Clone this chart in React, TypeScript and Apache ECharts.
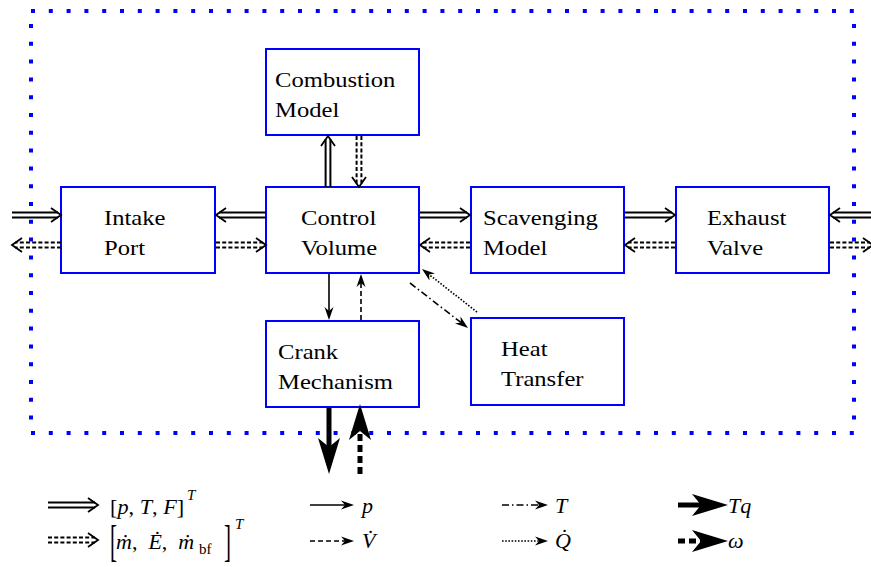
import { useEffect, useRef } from "react";
import * as echarts from "echarts";

const WIDTH = 871;
const HEIGHT = 567;

// ---- blocks of the diagram ----
const boxLabels = ["Combustion\nModel", "Intake\nPort", "Control\nVolume", "Scavenging\nModel", "Exhaust\nValve", "Crank\nMechanism", "Heat\nTransfer"];
const boxLeft = [266, 61, 266, 471, 676, 266, 471];
const boxTop = [49, 187, 187, 187, 187, 321, 318];
const boxRight = [419, 215, 419, 624, 829, 419, 624];
const boxBottom = [135, 273, 273, 273, 273, 407, 405];
const boxLabelLeft = [275, 104, 301, 483, 707, 278, 501];

// ---- dotted system boundary ----
const frameLeft = [31];
const frameTop = [11];
const frameRight = [854];
const frameBottom = [433];

// ---- signal arrows ----
const arrowKinds = [
  "dbl", "dblDash", "dbl", "dblDash", "dbl", "dblDash", "dbl", "dblDash", "dbl", "dblDash",
  "dbl", "dblDash", "solid", "dash", "dashDot", "dot", "thick", "thickDash",
  "dbl", "dblDash", "solid", "dash", "dashDot", "dot", "thick", "thickDash",
];
const arrowFromX = [12, 61, 266, 216, 420, 470, 625, 675, 871, 830, 328, 359, 329, 361, 410, 477, 329, 360, 48, 48, 310, 310, 502, 502, 678, 678];
const arrowFromY = [215, 245, 215, 245, 215, 245, 215, 245, 215, 245, 187, 136, 274, 320, 283, 312, 408, 474, 505, 540, 505, 541, 505, 541, 505, 541];
const arrowToX = [61, 12, 216, 266, 470, 420, 675, 625, 830, 873, 328, 359, 329, 361, 468, 422, 329, 360, 98, 98, 354, 354, 548, 548, 728, 728];
const arrowToY = [215, 245, 215, 245, 215, 245, 215, 245, 215, 245, 136, 187, 320, 274, 328, 269, 474, 404, 505, 540, 505, 541, 505, 541, 505, 541];

// ---- legend math labels ----
const mathText = [
  "{u|[}{i|p}{u|, }{i|T}{u|, }{i|F}{u|]}",
  "{i|T}",
  "{u|[}",
  "{i|ṁ}{u|,  }{i|Ė}{u|,  }{i|ṁ}",
  "{u|bf}",
  "{u|]}",
  "{i|T}",
  "{i|p}",
  "{i|V̇}",
  "{i|T}",
  "{i|Q̇}",
  "{i|Tq}",
  "{i|ω}",
];
const mathX = [110, 187, 110, 116, 199, 224, 235, 362, 362, 555, 555, 728, 728];
const mathY = [507, 495, 541, 541, 549, 541, 524, 506, 541, 506, 541, 506, 541];
const mathSize = [21, 15, 21, 22, 15, 21, 15, 21, 21, 21, 21, 21, 21];
const mathStretch = [1, 1, 2.1, 1, 1, 2.1, 1, 1, 1, 1, 1, 1, 1];
const mathWiden = [1.06, 1, 1, 1, 1, 1, 1, 1.05, 1.05, 1.05, 1.05, 1.05, 1.05];

const SERIF = "Liberation Serif";
const BLUE = "#0000ff";

type Pt = [number, number];

function arrowShapes(kind: string, p0: Pt, p1: Pt): any[] {
  const dx = p1[0] - p0[0];
  const dy = p1[1] - p0[1];
  const len = Math.hypot(dx, dy);
  const ux = dx / len;
  const uy = dy / len;
  const nx = -uy;
  const ny = ux;
  const at = (t: number, s: number): Pt => [p1[0] - ux * t + nx * s, p1[1] - uy * t + ny * s];
  const out: any[] = [];
  if (kind === "dbl" || kind === "dblDash") {
    const dash = kind === "dblDash" ? [4, 2.2] : undefined;
    for (const s of [-2.4, 2.4]) {
      const b = at(3, s);
      out.push({
        type: "line",
        shape: { x1: p0[0] + nx * s, y1: p0[1] + ny * s, x2: b[0], y2: b[1] },
        style: { stroke: "#000", lineWidth: 2, lineDash: dash },
      });
    }
    out.push({
      type: "polyline",
      shape: { points: [at(10, 7), [p1[0], p1[1]], at(10, -7)] },
      style: { stroke: "#000", lineWidth: 1.8, fill: null },
    });
  } else {
    const thick = kind === "thick" || kind === "thickDash";
    const L = thick ? 36 : 13;
    const w = thick ? 11 : 4.5;
    const notch = thick ? 9 : 4;
    const lw = thick ? 5 : 1.6;
    const dashes: Record<string, number[] | undefined> = {
      solid: undefined,
      dash: [5, 3],
      dashDot: [7, 3, 1.5, 3],
      dot: [1.6, 1.6],
      thick: undefined,
      thickDash: [7, 4],
    };
    const base = at(L - notch, 0);
    out.push({
      type: "line",
      shape: { x1: p0[0], y1: p0[1], x2: base[0], y2: base[1] },
      style: { stroke: "#000", lineWidth: lw, lineDash: dashes[kind] },
    });
    out.push({
      type: "polygon",
      shape: { points: [[p1[0], p1[1]], at(L, w), at(L - notch, 0), at(L, -w)] },
      style: { fill: "#000" },
    });
  }
  return out;
}

export default function App() {
  const ref = useRef<HTMLDivElement>(null);

  useEffect(() => {
    if (!ref.current) return;
    const chart = echarts.init(ref.current, undefined, { renderer: "svg" });

    const frameData = frameLeft.map((l, i) => [l, frameTop[i], frameRight[i], frameBottom[i]]);
    const boxData = boxLabels.map((_, i) => [boxLeft[i], boxTop[i], boxRight[i], boxBottom[i], i]);
    const arrowData = arrowKinds.map((_, i) => [arrowFromX[i], arrowFromY[i], arrowToX[i], arrowToY[i], i]);
    const mathData = mathText.map((_, i) => [mathX[i], mathY[i], i]);

    chart.setOption({
      animation: false,
      backgroundColor: "#ffffff",
      grid: { left: 0, right: 0, top: 0, bottom: 0 },
      xAxis: { type: "value", min: 0, max: WIDTH, show: false },
      yAxis: { type: "value", min: 0, max: HEIGHT, inverse: true, show: false },
      series: [
        {
          type: "custom",
          name: "frame",
          silent: true,
          clip: false,
          z: 1,
          data: frameData,
          encode: { x: [0, 2], y: [1, 3] },
          renderItem: (_p: any, api: any) => {
            const tl = api.coord([api.value(0), api.value(1)]);
            const br = api.coord([api.value(2), api.value(3)]);
            const st = { stroke: BLUE, lineWidth: 4, lineDash: [4, 13.8] };
            return {
              type: "group",
              children: [
                { type: "line", shape: { x1: tl[0], y1: tl[1], x2: br[0] + 6, y2: tl[1] }, style: st },
                { type: "line", shape: { x1: tl[0], y1: br[1], x2: br[0] + 6, y2: br[1] }, style: st },
                { type: "line", shape: { x1: tl[0], y1: tl[1] + 13, x2: tl[0], y2: br[1] - 13 }, style: st },
                { type: "line", shape: { x1: br[0], y1: tl[1] + 13, x2: br[0], y2: br[1] - 13 }, style: st },
              ],
            };
          },
        },
        {
          type: "custom",
          name: "blocks",
          silent: true,
          clip: false,
          z: 2,
          data: boxData,
          encode: { x: [0, 2], y: [1, 3] },
          renderItem: (_p: any, api: any) => {
            const i = api.value(4);
            const tl = api.coord([api.value(0), api.value(1)]);
            const br = api.coord([api.value(2), api.value(3)]);
            const lx = api.coord([boxLabelLeft[i], 0])[0];
            return {
              type: "group",
              children: [
                {
                  type: "rect",
                  shape: { x: tl[0], y: tl[1], width: br[0] - tl[0], height: br[1] - tl[1] },
                  style: { fill: "#ffffff", stroke: BLUE, lineWidth: 2 },
                },
                {
                  type: "text",
                  x: lx,
                  y: (tl[1] + br[1]) / 2 + 2,
                  scaleX: 1.12,
                  style: {
                    text: boxLabels[i],
                    x: 0,
                    y: 0,
                    align: "left",
                    verticalAlign: "middle",
                    fontFamily: SERIF,
                    fontSize: 22,
                    lineHeight: 30,
                    fill: "#000",
                  },
                },
              ],
            };
          },
        },
        {
          type: "custom",
          name: "arrows",
          silent: true,
          clip: false,
          z: 3,
          data: arrowData,
          encode: { x: [0, 2], y: [1, 3] },
          renderItem: (_p: any, api: any) => {
            const i = api.value(4);
            const p0 = api.coord([api.value(0), api.value(1)]);
            const p1 = api.coord([api.value(2), api.value(3)]);
            return { type: "group", children: arrowShapes(arrowKinds[i], p0, p1) };
          },
        },
        {
          type: "custom",
          name: "legend",
          silent: true,
          clip: false,
          z: 4,
          data: mathData,
          encode: { x: 0, y: 1 },
          renderItem: (_p: any, api: any) => {
            const i = api.value(2);
            const p = api.coord([api.value(0), api.value(1)]);
            const size = mathSize[i];
            return {
              type: "text",
              x: p[0],
              y: p[1],
              scaleX: mathWiden[i],
              scaleY: mathStretch[i],
              style: {
                text: mathText[i],
                x: 0,
                y: 0,
                align: "left",
                verticalAlign: "middle",
                fill: "#000",
                rich: {
                  u: { fontFamily: SERIF, fontSize: size, fill: "#000" },
                  i: { fontFamily: SERIF, fontSize: size, fontStyle: "italic", fill: "#000" },
                },
              },
            };
          },
        },
      ],
    });

    return () => chart.dispose();
  }, []);

  return (
    <div
      ref={ref}
      style={{ position: "fixed", left: 0, top: 0, width: WIDTH, height: HEIGHT, background: "#fff" }}
    />
  );
}
